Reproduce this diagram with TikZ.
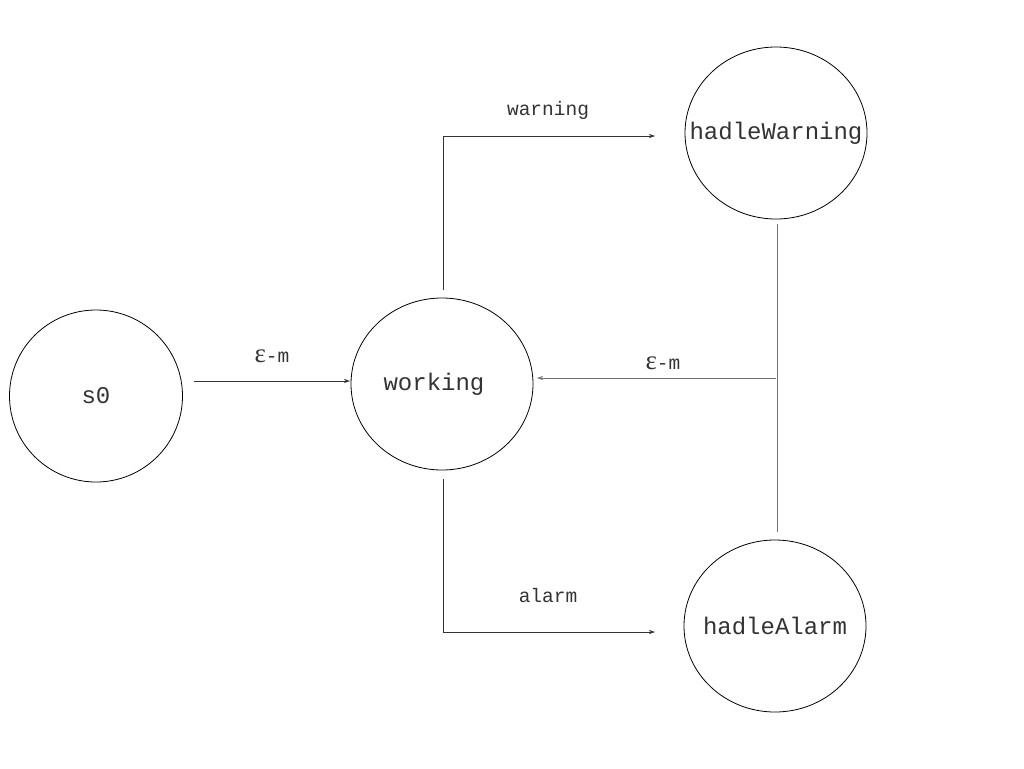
\documentclass[tikz,border=0pt]{standalone}
\usepackage{fontspec}
\setmainfont{Liberation Mono}
\newfontfamily\epsfont{Liberation Serif}
\usetikzlibrary{shapes.geometric,arrows.meta}
\newcommand{\zw}[1]{\makebox[0pt]{#1}}
\begin{document}
\begin{tikzpicture}[x=1pt,y=-1pt,
  state/.style={draw,ellipse,line width=0.8pt,minimum width=182pt,minimum height=172pt,inner sep=0pt,text=black!80,font=\fontsize{24}{26}\selectfont},
  conn/.style={line width=0.6pt,draw=black!80},
  arr/.style={conn,-{Stealth[length=6pt,width=4pt]}},
  lbl/.style={font=\fontsize{19.5}{21}\selectfont,text=black!80}]
\useasboundingbox (0,0) rectangle (1024,768);
\node[state,minimum width=173pt] (s0) at (96,396) {\zw{s0}};
\node[state] (working) at (442,384) {\zw{\raisebox{3pt}{working}\hspace{16pt}}};
\node[state] (warn) at (776,133) {\zw{hadleWarning}};
\node[state] (alarm) at (775,626) {\zw{hadleAlarm}};
% s0 -> working
\coordinate (a1) at (194,381);
\coordinate (a2) at (350,381);
\draw[arr] (a1) -- (a2);
\node[lbl] (l1) at (272,356) {{\epsfont\fontsize{27}{28}\selectfont ɛ}-m};
% working -> warning
\coordinate (w1) at (443,290);
\coordinate (w2) at (443,136);
\coordinate (w3) at (655,136);
\draw[arr] (w1) -- (w2) -- (w3);
\node[lbl] (l2) at (548,110) {warning};
% working -> alarm
\coordinate (b1) at (443,479);
\coordinate (b2) at (443,632);
\coordinate (b3) at (655,632);
\draw[arr] (b1) -- (b2) -- (b3);
\node[lbl] (l3) at (548,596) {alarm};
% back edge
\coordinate (r1) at (777,224);
\coordinate (r2) at (777,532);
\coordinate (r3) at (776,378);
\coordinate (r4) at (537,378);
\draw[conn,draw=black!55] (r1) -- (r2);
\draw[arr,draw=black!55] (r3) -- (r4);
\node[lbl] (l4) at (663,363) {{\epsfont\fontsize{27}{28}\selectfont ɛ}-m};
\end{tikzpicture}
\end{document}
